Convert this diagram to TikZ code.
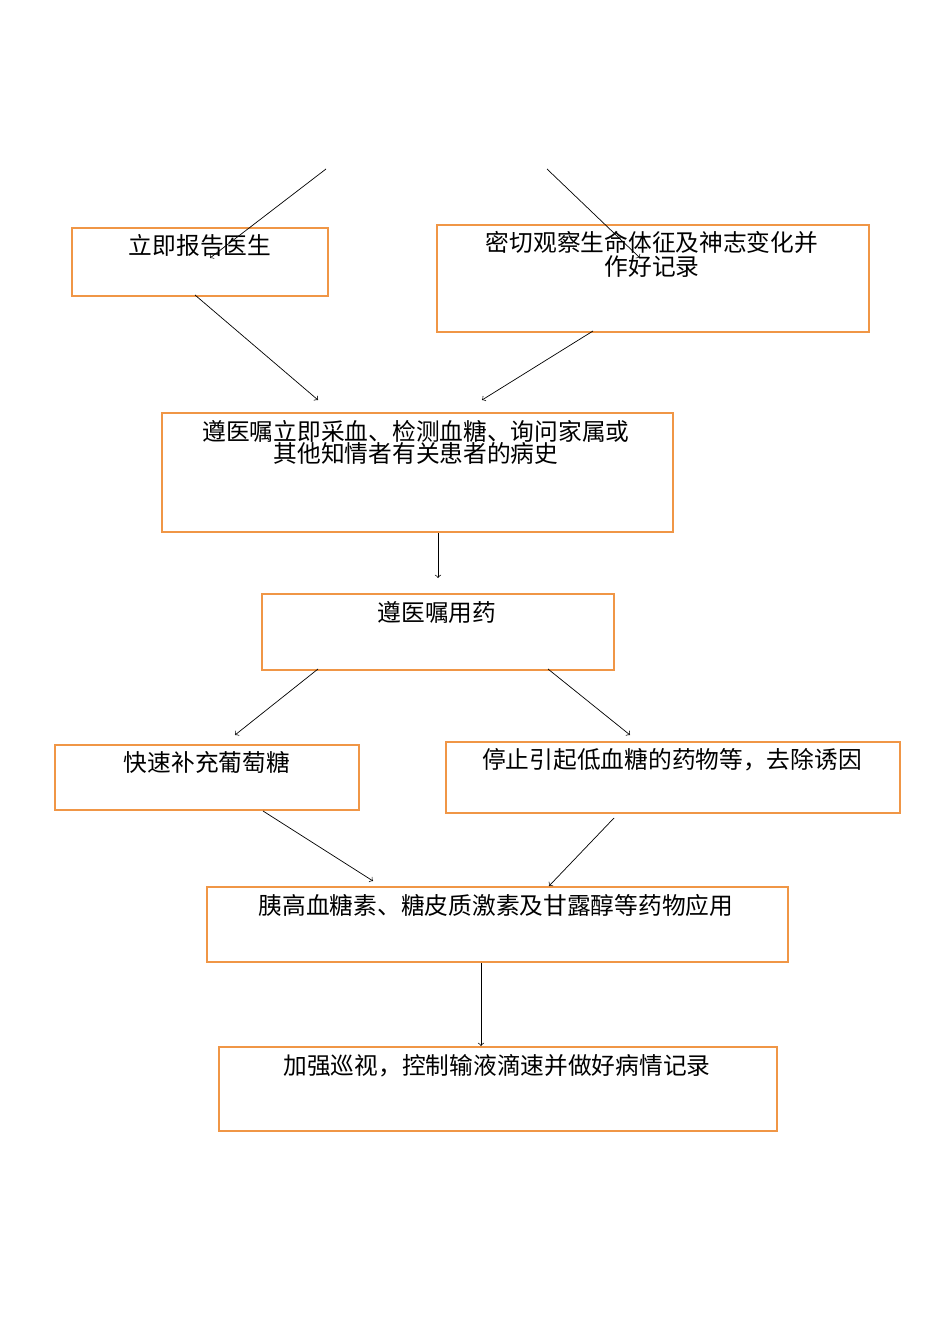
\documentclass[tikz,border=0pt]{standalone}
\usepackage{fontspec}
\setmainfont{Noto Sans CJK SC}
\usepackage{tikz}
\usetikzlibrary{positioning,arrows}
\definecolor{boxorange}{RGB}{240,150,70}

\begin{document}
\begin{tikzpicture}[x=0.02cm,y=-0.02cm,
        box/.style={rectangle, draw=boxorange, line width=1.2pt, anchor=north west, inner sep=0pt},
        txt/.style={anchor=north, align=center, inner sep=0pt, font=\fontsize{13.5}{12.5}\selectfont},
        arrow/.style={->, thin}
    ]
        \useasboundingbox (0,0) rectangle (950,1344);
        % Boxes
        \node[box, minimum width=256*0.02cm, minimum height=68*0.02cm] (report) at (71,227) {};
        \node[box, minimum width=432*0.02cm, minimum height=107*0.02cm] (observe) at (436,224) {};
        \node[box, minimum width=511*0.02cm, minimum height=119*0.02cm] (blood) at (161,412) {};
        \node[box, minimum width=352*0.02cm, minimum height=76*0.02cm] (drug) at (261,593) {};
        \node[box, minimum width=304*0.02cm, minimum height=65*0.02cm] (glucose) at (54,744) {};
        \node[box, minimum width=454*0.02cm, minimum height=71*0.02cm] (stop) at (445,741) {};
        \node[box, minimum width=581*0.02cm, minimum height=75*0.02cm] (hormone) at (206,886) {};
        \node[box, minimum width=558*0.02cm, minimum height=84*0.02cm] (patrol) at (218,1046) {};

        % Texts
        \node[txt] (reporttxt) at (200,234) {立即报告医生};
        \node[txt] (observetxt) at (652,231) {密切观察生命体征及神志变化并\\作好记录};
        \node[txt] (bloodtxt) at (416,420) {遵医嘱立即采血、检测血糖、询问家属或\\其他知情者有关患者的病史};
        \node[txt] (drugtxt) at (437,601) {遵医嘱用药};
        \node[txt] (glucosetxt) at (207,751) {快速补充葡萄糖};
        \node[txt] (stoptxt) at (672,748) {停止引起低血糖的药物等，去除诱因};
        \node[txt] (hormonetxt) at (496,894) {胰高血糖素、糖皮质激素及甘露醇等药物应用};
        \node[txt] (patroltxt) at (497,1054) {加强巡视，控制输液滴速并做好病情记录};

        % Arrows
        \coordinate (srcL) at (326,169);
        \coordinate (srcR) at (547,169);
        \coordinate (tipL) at (210,258);
        \coordinate (tipR) at (640,258);
        \draw[arrow] (srcL) -- (tipL);
        \draw[arrow] (srcR) -- (tipR);
        \draw[arrow] (195,295) -- (318,400);
        \draw[arrow] (593,331) -- (482,400);
        \draw[arrow] (blood.south -| 438,0) -- (438,578);
        \draw[arrow] (318,669) -- (235,735);
        \draw[arrow] (548,669) -- (630,735);
        \draw[arrow] (263,811) -- (373,881);
        \draw[arrow] (614,818) -- (549,886);
        \draw[arrow] (hormone.south -| 481,0) -- (patrol.north -| 481,0);
    \end{tikzpicture}
\end{document}
